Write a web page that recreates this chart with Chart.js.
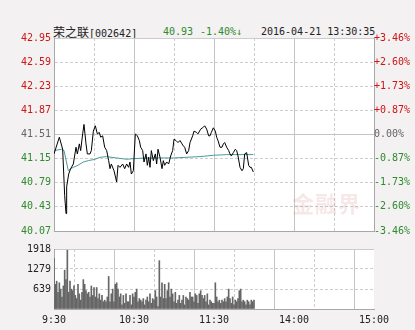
<!DOCTYPE html>
<html><head><meta charset="utf-8">
<script src="https://cdn.jsdelivr.net/npm/chart.js@4/dist/chart.umd.min.js"></script>
<style>
html,body{margin:0;padding:0;background:#f3f1f1;width:415px;height:330px;overflow:hidden;position:relative;font-family:"DejaVu Sans Mono",monospace;}
#main{position:absolute;left:0;top:0;}
#vol{position:absolute;left:0;top:240px;}
.t{position:absolute;top:25px;font-size:10px;line-height:14px;white-space:nowrap;color:#222}
.wm{position:absolute;left:292px;top:186px;font-family:"Noto Sans CJK SC";font-weight:bold;font-size:22px;color:rgba(200,110,110,0.16);letter-spacing:1px}
</style></head><body>
<div class="t" style="left:53px"><span style="font-family:'Noto Sans CJK SC';font-size:12px">荣之联</span>[002642]</div>
<div class="t" style="left:163px;color:#2e8b2e">40.93</div>
<div class="t" style="left:200px;color:#2e8b2e">-1.40%↓</div>
<div class="t" style="left:261px">2016-04-21 13:30:35</div>
<canvas id="main" width="415" height="240"></canvas>
<canvas id="vol" width="415" height="90"></canvas>
<div class="wm">金融界</div>
<script>
const priceTicks=[40.07,40.43,40.79,41.15,41.51,41.87,42.23,42.59,42.95];
const pctLabels=['-3.46%','-2.60%','-1.73%','-0.87%','0.00%','+0.87%','+1.73%','+2.60%','+3.46%'];
const timeTicks=[0,30,60,90,120,150,180,210,240];
const timeLabels=['9:30','','10:30','','11:30','','14:00','','15:00'];
const volTicks=[0,639,1279,1918];
const prevClose=41.51;

const priceMinutes=[0,4,6.5,8,9,9.5,11,12.5,14.5,16.5,17.5,19,20,21.5,22.5,24,25,27,28,29.5,31,32.5,34,35,36.5,38,39.5,41,42,43,45,47,48,49.5,51.5,53,54.5,56,57,58,59.5,61,62.5,64,65,66.5,67.5,69,70,71,72,73,74.5,76,77,78,79.5,81,82,83,84.5,86,87.5,89,90,91.5,93,94.5,96,97,98,99.5,101,102,104,105,107,108,110,111.5,113,114.5,116,117,118,119.5,121,122,123,124.5,126,127,128,129.5,131,132,133,134.5,136,137,138,139.5,141,142,143,144.5,146,147,148,149.5];
const prices=[41.22,41.47,41.29,40.60,40.33,40.73,40.92,41.00,41.07,41.32,41.22,41.37,41.27,41.52,41.66,41.37,41.22,41.22,41.27,41.56,41.64,41.52,41.54,41.47,41.49,41.32,41.27,41.12,41.00,41.07,40.97,40.80,41.05,41.02,41.07,41.00,41.07,41.02,41.10,40.92,40.97,41.52,41.49,41.42,41.32,41.27,41.10,41.22,41.05,41.17,41.02,41.27,41.12,41.22,41.07,41.29,41.17,41.00,41.12,41.05,41.10,41.07,41.19,41.27,41.44,41.42,41.39,41.42,41.37,41.34,41.32,41.22,41.27,41.39,41.49,41.56,41.54,41.52,41.59,41.61,41.64,41.59,41.49,41.49,41.54,41.61,41.56,41.47,41.42,41.32,41.32,41.37,41.39,41.32,41.27,41.22,41.19,41.24,41.29,41.27,41.19,41.02,40.97,41.00,41.22,41.24,41.05,41.02,41.02,40.95];

const avgMinutes=[0,5.75,7.5,10.75,12.5,14.5,18,22,25.75,30.75,34.5,39.5,47,54.5,59.5,69.5,79.5,89.5,99.5,109.5,119.5,129.5,139.5,149.5];
const avgPrices=[41.27,41.29,41.27,40.97,41.00,41.02,41.05,41.10,41.12,41.14,41.17,41.18,41.16,41.14,41.15,41.16,41.16,41.16,41.17,41.18,41.20,41.21,41.21,41.21];

const volumes=[1616,788,889,535,838,636,384,737,1242,939,1880,535,889,636,586,737,434,333,788,485,283,535,939,788,586,485,535,384,737,434,687,384,687,333,485,283,434,232,283,232,384,1040,232,485,636,232,788,838,636,384,485,131,434,182,485,232,232,434,131,485,384,535,636,232,333,283,232,333,131,283,384,232,485,182,333,283,586,384,81,1545,384,838,333,788,333,586,838,384,636,485,232,535,182,283,434,182,283,434,131,384,333,283,535,384,384,232,485,434,182,485,586,434,333,434,232,485,131,283,232,182,182,838,384,232,283,182,283,232,333,232,384,636,333,182,384,131,283,232,333,586,636,232,283,232,131,283,232,131,283,232,283];

const RED='#d01414', GREEN='#2e8b2e', GRAY='#666';
const GRID='#cccccc', BORDER='#a8a8a8';
const FONT={family:'"DejaVu Sans Mono", monospace', size:10};

const bgPlugin={id:'bg',beforeDraw(c){const a=c.chartArea;const x=c.ctx;x.save();x.fillStyle='#fff';x.fillRect(a.left,a.top,a.right-a.left,a.bottom-a.top);x.restore();}};

function priceColor(v){ if(Math.abs(v-prevClose)<0.001) return GRAY; return v>prevClose?RED:GREEN; }

const xCommon={
  type:'linear',min:0,max:240,
  afterBuildTicks:a=>{a.ticks=timeTicks.map(v=>({value:v}));},
  grid:{color:c=>(c.tick&&c.tick.value%60===0)?'#c4c4c4':GRID,drawTicks:false,lineWidth:1},
  border:{display:true,color:BORDER,dash:c=>(c.tick&&c.tick.value%60!==0)?[3,2]:[]}
};

new Chart(document.getElementById('main'),{
  type:'line',
  data:{datasets:[
    {data:priceMinutes.map((m,i)=>({x:m,y:prices[i]})),borderColor:'#000',borderWidth:1,pointRadius:0,tension:0},
    {data:avgMinutes.map((m,i)=>({x:m,y:avgPrices[i]})),borderColor:'#4d9a9a',borderWidth:1,pointRadius:0,tension:0}
  ]},
  options:{
    responsive:false,animation:false,
    layout:{padding:{top:38,bottom:7,left:0,right:0}},
    plugins:{legend:{display:false},tooltip:{enabled:false}},
    scales:{
      x:Object.assign({},xCommon,{ticks:{display:false},afterFit:a=>{a.height=0;}}),
      y:{
        position:'left',min:40.07,max:42.95,
        afterBuildTicks:a=>{a.ticks=priceTicks.map(v=>({value:v}));},
        ticks:{callback:v=>v.toFixed(2),color:c=>priceColor(c.tick.value),font:FONT,padding:3},
        grid:{color:c=>(c.tick&&Math.abs(c.tick.value-prevClose)<0.001)?'#c4c4c4':GRID,drawTicks:false},
        border:{display:true,color:BORDER,dash:c=>{if(!c.tick)return [];const v=c.tick.value;return (Math.abs(v-prevClose)<0.001||v===40.07||v===42.95)?[]:[3,2];}},
        afterFit:a=>{a.width=54;}
      },
      y2:{
        position:'right',min:40.07,max:42.95,
        afterBuildTicks:a=>{a.ticks=priceTicks.map(v=>({value:v}));},
        ticks:{callback:(v,i)=>pctLabels[i],color:c=>priceColor(c.tick.value),font:FONT,padding:0},
        grid:{display:false,drawTicks:false},
        border:{display:true,color:BORDER},
        afterFit:a=>{a.width=41;}
      }
    }
  },
  plugins:[bgPlugin]
});

new Chart(document.getElementById('vol'),{
  type:'bar',
  data:{datasets:[{data:volumes.map((v,i)=>({x:i,y:v})),backgroundColor:'#666',barThickness:1,borderWidth:0}]},
  options:{
    responsive:false,animation:false,
    layout:{padding:{top:6,bottom:0,left:0,right:41}},
    plugins:{legend:{display:false},tooltip:{enabled:false}},
    scales:{
      x:Object.assign({},xCommon,{offset:false,
        ticks:{callback:(v,i)=>timeLabels[i],color:'#222',font:FONT,padding:5,autoSkip:false,maxRotation:0},
        afterFit:a=>{a.height=21;}}),
      y:{
        position:'left',min:0,max:1918,
        afterBuildTicks:a=>{a.ticks=volTicks.map(v=>({value:v}));},
        ticks:{callback:v=>v===0?'':String(v),color:'#222',font:FONT,padding:3},
        grid:{color:GRID,drawTicks:false},
        border:{display:true,color:BORDER,dash:c=>{if(!c.tick)return [];const v=c.tick.value;return (v===0||v===1918)?[]:[3,2];}},
        afterFit:a=>{a.width=54;}
      }
    }
  },
  plugins:[bgPlugin]
});
</script>
</body></html>
